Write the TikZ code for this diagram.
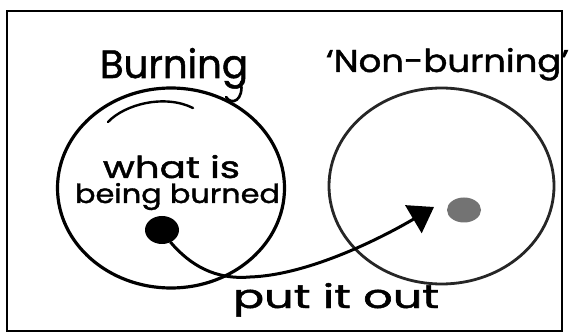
\documentclass[tikz,border=0pt]{standalone}
\usepackage{graphicx}
\usepackage{fontspec}
\setmainfont{Poppins}
\newfontfamily\handfont{Poppins}[FakeBold=1.3,Ligatures=TeX]
\usetikzlibrary{shapes.geometric,arrows.meta}
\tikzset{
  ring/.style={ellipse, draw=black, line width=3.2pt, inner sep=0pt},
  dotblob/.style={ellipse, inner sep=0pt},
  hand/.style={inner sep=0pt, outer sep=0pt, anchor=base west, text=black, font=\handfont},
  pen/.style={draw=black, line width=3pt, line cap=round},
  arrowline/.style={pen, -{Triangle[length=24pt,width=32pt]}},
  framebox/.style={draw=black, line width=1.8pt}
}
\begin{document}
\begin{tikzpicture}[x=1pt,y=-1pt]
\useasboundingbox (0,0) rectangle (572,336);
\fill[white] (0,0) rectangle (572,336);
\draw[framebox] (7,11) rectangle (562,331);

% circles
\node[ring, minimum width=227pt, minimum height=200pt] (burn) at (171,188) {};
\node[ring, draw=black!85, line width=2.8pt, minimum width=225pt, minimum height=196pt] (nonburn) at (441.5,186) {};

% extra strokes of the hand drawing
\draw[pen, line width=2.4pt] (108,122) .. controls (125,104) and (165,94) .. (193,108);

% titles
\node[hand] (tburn) at (100,78) {\resizebox{148pt}{30pt}{Burning}};
\draw[pen, line width=2.6pt] (241,82) .. controls (244,100) and (232,106) .. (226,97);
\node[hand] (tnon) at (326,72) {\resizebox{243pt}{24pt}{‘Non-burning’}};

% inner text
\node[hand] (twhat) at (103,178) {\resizebox{137pt}{23pt}{what is}};
\node[hand] (tbeing) at (75,203) {\resizebox{205pt}{20pt}{being burned}};

% dots
\node[dotblob, fill=black, minimum width=34pt, minimum height=28pt] (bdot) at (162,230) {};
\node[dotblob, fill=black!55, minimum width=34pt, minimum height=25pt] (gdot) at (464,210) {};
\coordinate (tip) at (434,207);

% arrow
\draw[arrowline] (bdot.-55) .. controls (190,265) and (215,280) .. (250,277)
  .. controls (310,275) and (385,236) .. (tip);

% label
\node[hand] (tput) at (233,308) {\resizebox{206pt}{25pt}{put it out}};
\end{tikzpicture}
\end{document}
